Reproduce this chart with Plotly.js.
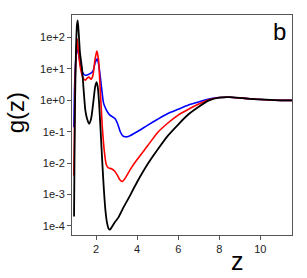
<!DOCTYPE html>
<html><head><meta charset="utf-8">
<script src="https://cdn.plot.ly/plotly-3.0.1.min.js"></script>
<style>html,body{margin:0;padding:0;background:#fff}#c{width:307px;height:278px}</style>
</head><body><div id="c"></div>
<script>
// z values and g(z) values
const zBlack = [0.93,0.95,0.98,1.02,1.07,1.11,1.16,1.22,1.32,1.40,1.48,1.57,1.66,1.76,1.87,1.96,2.03,2.09,2.15,2.22,2.30,2.38,2.46,2.54,2.62,2.68,2.80,2.95,3.10,3.30,3.60,4.00,4.50,5.00,5.50,6.00,6.50,7.00,7.50,8.00,8.50,9.00,9.50,10.0,10.5,11.0,11.6];
const gBlack = [2.0e-4,1.0e-2,1.0,30,250,355,130,32,10,2.0,0.48,0.25,0.18,0.26,0.9,2.8,3.8,2.5,0.8,0.12,0.012,1.5e-3,3.0e-4,1.2e-4,8.0e-5,7.6e-5,1.0e-4,1.4e-4,1.9e-4,3.5e-4,8.0e-4,2.5e-3,9.0e-3,2.7e-2,7.5e-2,0.17,0.36,0.63,1.0,1.23,1.26,1.2,1.12,1.07,1.03,1.0,1.0];
const zRed = [0.92,0.95,0.98,1.03,1.09,1.15,1.25,1.38,1.48,1.58,1.66,1.76,1.85,1.95,2.04,2.12,2.20,2.30,2.40,2.50,2.60,2.75,2.90,3.05,3.15,3.27,3.40,3.70,4.00,4.50,5.00,5.50,6.00,6.50,7.00,7.50,8.00,8.50,9.00,9.50,10.0,10.5,11.0,11.6];
const gRed = [4.0e-3,0.1,3.2,30,90,32,10,5.0,4.4,5.2,5.5,4.7,6.3,20,37,20,2.5,0.16,0.025,8.9e-3,7.1e-3,6.6e-3,5.6e-3,4.0e-3,3.0e-3,2.6e-3,3.2e-3,6.8e-3,0.013,0.035,0.095,0.19,0.34,0.52,0.76,1.05,1.23,1.26,1.2,1.12,1.07,1.03,1.0,1.0];
const zBlue = [0.92,0.95,0.99,1.04,1.10,1.17,1.25,1.38,1.48,1.60,1.75,1.86,1.96,2.06,2.14,2.25,2.37,2.50,2.65,2.80,2.93,3.05,3.18,3.30,3.43,3.60,4.00,4.50,5.00,5.50,6.00,6.50,7.00,7.50,8.00,8.50,9.00,9.50,10.0,10.5,11.0,11.6];
const gBlue = [0.14,2.0,10,32,43,25,12.6,7.1,6.3,6.6,7.4,8.9,16,21,12.6,3.2,0.8,0.5,0.35,0.30,0.26,0.18,0.10,0.074,0.069,0.072,0.10,0.16,0.25,0.38,0.52,0.71,0.89,1.1,1.23,1.26,1.2,1.12,1.07,1.03,1.0,1.0];
const xTicks = [2,4,6,8,10];
const yTickVals = [1e-4,1e-3,1e-2,1e-1,1,10,100];
const yTickText = ["1e-4","1e-3","1e-2","1e-1","1e+0","1e+1","1e+2"];

const traces = [
  {x:zBlue, y:gBlue, mode:'lines', line:{color:'#0000ff', width:1.6, shape:'spline', smoothing:0.6}},
  {x:zRed, y:gRed, mode:'lines', line:{color:'#ff0000', width:1.6, shape:'spline', smoothing:0.6}},
  {x:zBlack, y:gBlack, mode:'lines', line:{color:'#000000', width:1.8, shape:'spline', smoothing:0.6}}
];
const fam = 'Liberation Sans, Arial, sans-serif';
const layout = {
  width:307, height:278, showlegend:false,
  paper_bgcolor:'#fff', plot_bgcolor:'#fff',
  margin:{l:71.7, r:15.3, t:15, b:43, pad:0},
  font:{family:fam, size:11, color:'#222'},
  xaxis:{range:[0.83,11.54], tickvals:xTicks, ticks:'outside', ticklen:4, tickcolor:'#555',
         showline:true, linecolor:'#555', linewidth:1, mirror:true, showgrid:false, zeroline:false,
         tickfont:{size:11, color:'#222'}},
  yaxis:{type:'log', range:[-4.29,2.72], tickvals:yTickVals, ticktext:yTickText, ticks:'outside', ticklen:4, tickcolor:'#555',
         showline:true, linecolor:'#555', linewidth:1, mirror:true, showgrid:false, zeroline:false,
         tickfont:{size:11, color:'#222'}},
  annotations:[
    {text:'g(z)', xref:'paper', yref:'paper', x:-0.253, y:0.555, showarrow:false, textangle:-90,
     xanchor:'center', yanchor:'middle', font:{size:24, color:'#000', family:fam}},
    {text:'z', xref:'paper', yref:'paper', x:0.751, y:-0.118, showarrow:false,
     xanchor:'center', yanchor:'middle', font:{size:25, color:'#000', family:fam}},
    {text:'b', xref:'paper', yref:'paper', x:0.942, y:0.925, showarrow:false,
     xanchor:'center', yanchor:'middle', font:{size:24, color:'#000', family:fam}}
  ]
};
Plotly.newPlot('c', traces, layout, {staticPlot:true, displayModeBar:false});
</script></body></html>
